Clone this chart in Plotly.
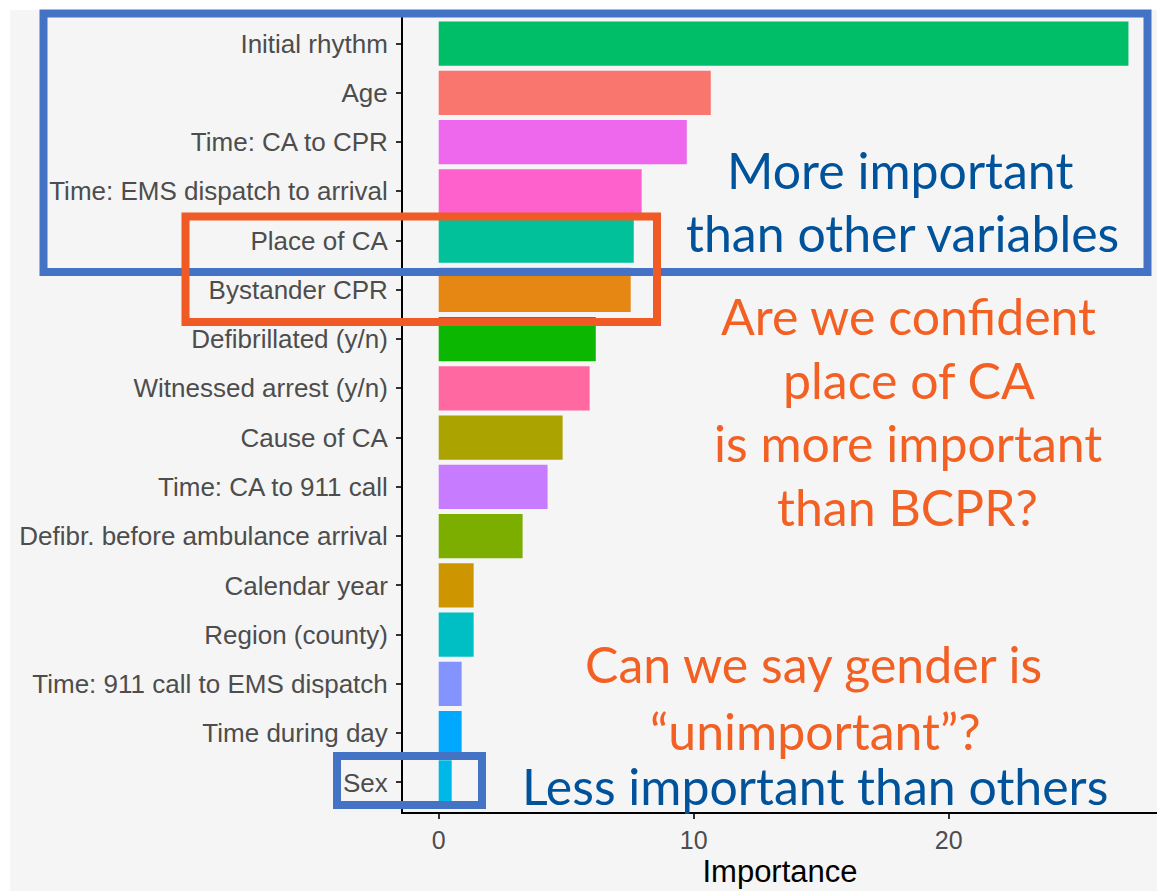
import plotly.graph_objects as go

# ---------------- data ----------------
variables = [
    "Initial rhythm", "Age", "Time: CA to CPR", "Time: EMS dispatch to arrival",
    "Place of CA", "Bystander CPR", "Defibrillated (y/n)", "Witnessed arrest (y/n)",
    "Cause of CA", "Time: CA to 911 call", "Defibr. before ambulance arrival",
    "Calendar year", "Region (county)", "Time: 911 call to EMS dispatch",
    "Time during day", "Sex",
]
importance = [27.05, 10.67, 9.73, 7.96, 7.65, 7.53, 6.16, 5.92,
              4.86, 4.27, 3.29, 1.37, 1.37, 0.90, 0.90, 0.51]
bar_colors = [
    "#00BE67", "#F8766D", "#ED68ED", "#FF61CC", "#00C19A", "#E68613",
    "#0CB702", "#FF68A1", "#ABA300", "#C77CFF", "#7CAE00", "#CD9600",
    "#00BFC4", "#8494FF", "#00A9FF", "#00B8E7",
]
x_ticks = [0, 10, 20]

# ---------------- layout geometry (pixels) ----------------
W, H = 1157, 891
L, R, T, B = 403, 0, 14, 79
PW, PH = W - L - R, H - T - B


def px(x):
    return (x - L) / PW


def py(y):
    return (H - B - y) / PH


BLUE_BOX = "#4472C4"
ORANGE_BOX = "#F05A24"
BLUE_TXT = "#00529B"
ORANGE_TXT = "#F26123"

fig = go.Figure(
    go.Bar(
        x=importance,
        y=variables,
        orientation="h",
        marker=dict(color=bar_colors, line=dict(width=0)),
        width=0.9,
        showlegend=False,
    )
)

n = len(variables)
fig.update_layout(
    width=W,
    height=H,
    margin=dict(l=L, r=R, t=T, b=B, pad=0),
    paper_bgcolor="#F5F5F5",
    plot_bgcolor="rgba(0,0,0,0)",
    font=dict(family="Liberation Sans, Arial, sans-serif", color="#4D4D4D"),
    xaxis=dict(
        range=[-1.40, 28.17],
        tickvals=x_ticks,
        ticktext=[str(v) for v in x_ticks],
        showgrid=False,
        zeroline=False,
        showline=True,
        linecolor="black",
        linewidth=2,
        ticks="outside",
        ticklen=5,
        tickwidth=2,
        tickcolor="#333333",
        tickfont=dict(size=25, color="#4D4D4D"),
        title=dict(text="Importance", font=dict(size=31, color="black"), standoff=3),
    ),
    yaxis=dict(
        type="category",
        categoryorder="array",
        categoryarray=variables,
        range=[n - 1 + 0.6, -0.6],
        showgrid=False,
        zeroline=False,
        showline=True,
        linecolor="black",
        linewidth=2,
        ticks="outside",
        ticklen=5,
        tickwidth=2,
        tickcolor="#333333",
        tickfont=dict(size=26, color="#4D4D4D"),
        ticklabelstandoff=3,
    ),
)

# thin white strips at the top and left edges of the picture
fig.add_shape(type="rect", xref="paper", yref="paper", layer="below",
              x0=px(-5), x1=px(W + 5), y0=py(-5), y1=py(10),
              fillcolor="white", line=dict(width=0))
fig.add_shape(type="rect", xref="paper", yref="paper", layer="below",
              x0=px(-5), x1=px(10), y0=py(-5), y1=py(H + 5),
              fillcolor="white", line=dict(width=0))

# highlight boxes
boxes = [
    (43.5, 13.5, 1147.5, 272, BLUE_BOX),
    (185.5, 216.5, 657, 322, ORANGE_BOX),
    (337, 756, 482, 805, BLUE_BOX),
]
for x0, y0, x1, y1, c in boxes:
    fig.add_shape(type="rect", xref="paper", yref="paper", layer="above",
                  x0=px(x0), x1=px(x1), y0=py(y0), y1=py(y1),
                  line=dict(color=c, width=8), fillcolor="rgba(0,0,0,0)")

# annotation texts (one per line)
ANN_FONT = "Lato, Open Sans, sans-serif"
lines = [
    ("More important", 900, 170, BLUE_TXT),
    ("than other variables", 902, 233, BLUE_TXT),
    ("Are we confident", 908, 316, ORANGE_TXT),
    ("place of CA", 909, 380, ORANGE_TXT),
    ("is more important", 908, 443, ORANGE_TXT),
    ("than BCPR?", 907, 507, ORANGE_TXT),
    ("Can we say gender is", 813, 664, ORANGE_TXT),
    ("\u201cunimportant\u201d?", 815, 731, ORANGE_TXT),
    ("Less important than others", 815, 786, BLUE_TXT),
]
for txt, cx, cy, c in lines:
    fig.add_annotation(text=txt, xref="paper", yref="paper",
                       x=px(cx), y=py(cy), xanchor="center", yanchor="middle",
                       showarrow=False,
                       font=dict(family=ANN_FONT, size=50, color=c))

fig.write_html("out.html",
               config={"displayModeBar": False},
               post_script=("document.body.style.margin='0';"
                            "document.body.style.padding='0';"
                            "document.body.style.background='#F5F5F5';"
                            "document.documentElement.style.background='#F5F5F5';"))
